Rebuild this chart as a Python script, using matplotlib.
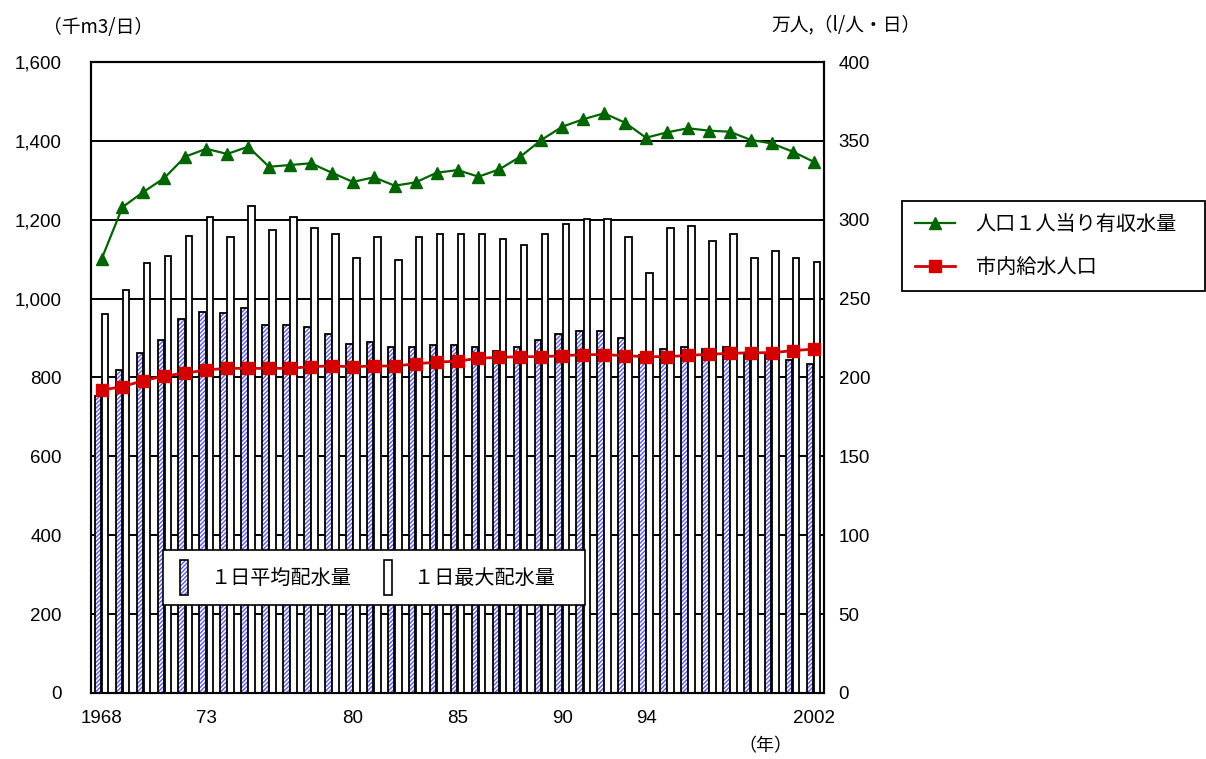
import numpy as np
import matplotlib
matplotlib.use("Agg")
import matplotlib.pyplot as plt
from matplotlib.patches import Rectangle
from matplotlib.lines import Line2D
from matplotlib.legend_handler import HandlerBase
from matplotlib.ticker import FuncFormatter, MultipleLocator

plt.rcParams['font.family'] = ['Noto Sans CJK JP', 'DejaVu Sans']

years = list(range(1968, 2003))
tick_labels = {1968: "1968", 1973: "73", 1980: "80", 1985: "85",
               1990: "90", 1994: "94", 2002: "2002"}

# 1日平均配水量 (千m3/日)
avg_supply = [753, 819, 862, 895, 948, 966, 963, 976, 933, 933,
              929, 910, 886, 891, 877, 877, 882, 882, 878, 867,
              877, 896, 910, 919, 919, 901, 857, 871, 877, 872,
              877, 860, 856, 844, 834]
# 1日最大配水量 (千m3/日)
max_supply = [961, 1023, 1090, 1108, 1160, 1207, 1155, 1236, 1174, 1207,
              1178, 1165, 1103, 1155, 1098, 1155, 1165, 1165, 1165, 1150,
              1136, 1165, 1188, 1202, 1202, 1155, 1066, 1178, 1184, 1145,
              1165, 1103, 1122, 1103, 1094]
# 人口1人当り有収水量 (l/人・日)
per_capita = [275, 308, 317.6, 326.5, 340, 345, 341.7, 346.3, 333.6, 334.7,
              335.8, 329.8, 324, 326.9, 321.6, 323.7, 329.8, 331.5, 327.3, 332,
              340, 350.6, 359, 363.7, 367.5, 361.5, 352, 355.4, 358, 356.5,
              355.8, 350.6, 348.4, 343.2, 336.8]
# 市内給水人口 (万人)
population = [192, 194.2, 198, 201, 202.7, 204.8, 205.8, 205.8, 205.8, 205.8,
              206.9, 207.3, 206.8, 207.3, 207.3, 208.6, 209.8, 210.3, 212.2, 212.8,
              213.2, 213.2, 213.8, 214.5, 214.5, 213.8, 213.2, 213.2, 214, 214.7,
              215.3, 215.7, 215.7, 217, 218]

x = np.arange(len(years))
bw = 0.31
off = 0.17
hatch_col = '#5c5ce0'
hatch_pat = '////////'
tick_font = ['Liberation Sans', 'Noto Sans CJK JP']

fig = plt.figure(figsize=(12.06, 7.59), dpi=100)
ax = fig.add_axes([0.0755, 0.0870, 0.6078, 0.8313])
ax.set_axisbelow(True)

# average supply: hatched fill with a black outline
ax.bar(x - off, avg_supply, bw, color='white', hatch=hatch_pat,
       edgecolor=hatch_col, linewidth=0, zorder=2)
ax.bar(x - off, avg_supply, bw, fill=False, edgecolor='black',
       linewidth=1.3, zorder=3)
ax.bar(x + off, max_supply, bw, color='white', edgecolor='black',
       linewidth=1.3, zorder=3)

ax.set_xlim(-0.5, len(years) - 0.5)
ax.set_ylim(0, 1600)
ax.yaxis.set_major_locator(MultipleLocator(200))
ax.yaxis.set_major_formatter(FuncFormatter(lambda v, p: f"{int(v):,}"))
ax.grid(axis='y', color='black', linewidth=1.4)
ticks = [years.index(y) for y in tick_labels]
ax.set_xticks(ticks)
ax.set_xticklabels(list(tick_labels.values()))
ax.tick_params(axis='both', length=0, labelsize=13.5)
ax.tick_params(axis='x', pad=12.5)
ax.tick_params(axis='y', pad=21)
for lab in ax.get_xticklabels() + ax.get_yticklabels():
    lab.set_family(tick_font)
for s in ax.spines.values():
    s.set_linewidth(1.5)

ax2 = ax.twinx()
ax2.set_ylim(0, 400)
ax2.yaxis.set_major_locator(MultipleLocator(50))
ax2.tick_params(axis='y', length=0, labelsize=13.5, pad=10.5)
for lab in ax2.get_yticklabels():
    lab.set_family(tick_font)
for s in ax2.spines.values():
    s.set_linewidth(1.5)

green = '#006400'
red = '#d40000'
ax2.plot(x, per_capita, color=green, linewidth=1.6, marker='^',
         markersize=8.5, zorder=5)
ax2.plot(x, population, color=red, linewidth=2, marker='s',
         markersize=8.5, zorder=5)


class BarKeyHandler(HandlerBase):
    """Narrow bar key drawn at the right end of the handle box."""

    def __init__(self, hatched):
        super().__init__()
        self.hatched = hatched

    def create_artists(self, legend, orig_handle, xdescent, ydescent,
                       width, height, fontsize, trans):
        w = 0.4 * fontsize
        x0 = -xdescent + width - w
        arts = []
        if self.hatched:
            arts.append(Rectangle((x0, -ydescent), w, height,
                                  facecolor='white', hatch=hatch_pat,
                                  edgecolor=hatch_col, linewidth=0,
                                  transform=trans))
            arts.append(Rectangle((x0, -ydescent), w, height, fill=False,
                                  edgecolor='black', linewidth=1.2,
                                  transform=trans))
        else:
            arts.append(Rectangle((x0, -ydescent), w, height,
                                  facecolor='white', edgecolor='black',
                                  linewidth=1.2, transform=trans))
        return arts


avg_key = Rectangle((0, 0), 1, 1)
max_key = Rectangle((0, 0), 1, 1)
leg1 = ax2.legend([avg_key, max_key], ['１日平均配水量', '１日最大配水量　'],
                  handler_map={avg_key: BarKeyHandler(True),
                               max_key: BarKeyHandler(False)},
                  loc='lower left',
                  bbox_to_anchor=(0.0982, 0.1395, 0.576, 0.092),
                  mode='expand', ncol=2, fontsize=14.5, frameon=True,
                  fancybox=False, edgecolor='black', framealpha=1,
                  handlelength=0.75, handleheight=2.3, handletextpad=1.1,
                  borderpad=0.5, borderaxespad=0, columnspacing=1.0)
leg1.get_frame().set_linewidth(1.2)
leg1.set_zorder(10)

# line legend to the right of the plot
line_handles = [Line2D([], [], color=green, marker='^', markersize=8,
                       linewidth=1.6),
                Line2D([], [], color=red, marker='s', markersize=8,
                       linewidth=2)]
leg2 = fig.legend(line_handles, ['人口１人当り有収水量', '市内給水人口'],
                  loc='lower left',
                  bbox_to_anchor=(0.748, 0.6166, 0.2512, 0.1238),
                  mode='expand', fontsize=14.5, frameon=True,
                  fancybox=False, edgecolor='black', framealpha=1,
                  handlelength=2.0, handletextpad=1.0, labelspacing=1.1,
                  borderpad=0.65, borderaxespad=0)
leg2.get_frame().set_linewidth(1.3)

fig.text(98 / 1206, 1 - 27 / 759, '（千m3/日）', ha='center', va='center',
         fontsize=13.5)
fig.text(846 / 1206, 1 - 25 / 759, '万人,（l/人・日）', ha='center',
         va='center', fontsize=13.5)
fig.text(765 / 1206, 1 - 746 / 759, '（年）', ha='center', va='center',
         fontsize=13)

fig.savefig('out.png', dpi=100)
